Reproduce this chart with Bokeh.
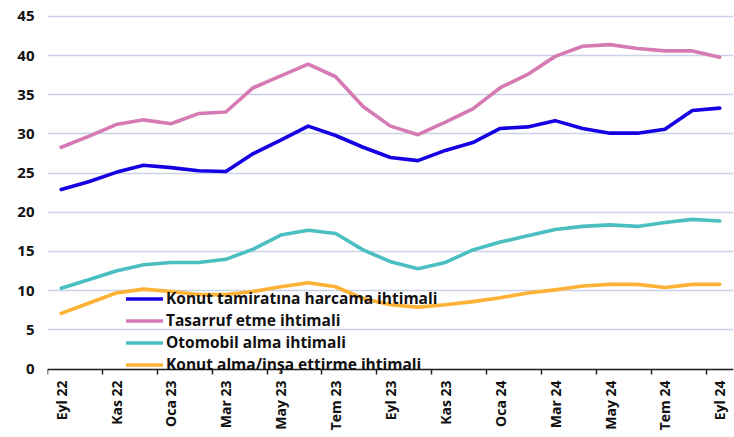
import math
from bokeh.plotting import figure
from bokeh.models import Range1d, FixedTicker, Legend, LegendItem, LinearAxis
from bokeh.embed import file_html
from bokeh.resources import INLINE

months = ["Eyl 22", "Eki 22", "Kas 22", "Ara 22", "Oca 23", "Şub 23", "Mar 23", "Nis 23",
          "May 23", "Haz 23", "Tem 23", "Ağu 23", "Eyl 23", "Eki 23", "Kas 23", "Ara 23",
          "Oca 24", "Şub 24", "Mar 24", "Nis 24", "May 24", "Haz 24", "Tem 24", "Ağu 24", "Eyl 24"]

konut_tamirat = [22.9, 23.9, 25.1, 26.0, 25.7, 25.3, 25.2, 27.5, 29.2, 31.0, 29.8, 28.3, 27.0,
                 26.6, 27.9, 28.9, 30.7, 30.9, 31.7, 30.7, 30.1, 30.1, 30.6, 33.0, 33.3]
tasarruf = [28.3, 29.7, 31.2, 31.8, 31.3, 32.6, 32.8, 35.9, 37.4, 38.9, 37.3, 33.5, 31.0,
            29.9, 31.5, 33.2, 35.9, 37.6, 39.9, 41.2, 41.4, 40.9, 40.6, 40.6, 39.8]
otomobil = [10.3, 11.4, 12.5, 13.3, 13.6, 13.6, 14.0, 15.3, 17.1, 17.7, 17.3, 15.2, 13.7,
            12.8, 13.6, 15.2, 16.2, 17.0, 17.8, 18.2, 18.4, 18.2, 18.7, 19.1, 18.9]
konut_alma = [7.1, 8.4, 9.7, 10.2, 9.9, 9.5, 9.5, 9.9, 10.5, 11.0, 10.5, 9.0, 8.2,
              7.9, 8.2, 8.6, 9.1, 9.7, 10.1, 10.6, 10.8, 10.8, 10.4, 10.8, 10.8]

series_names = ["Konut tamiratına harcama ihtimali", "Tasarruf etme ihtimali",
                "Otomobil alma ihtimali", "Konut alma/inşa ettirme ihtimali"]
series_values = [konut_tamirat, tasarruf, otomobil, konut_alma]
colors = ["#1500E3", "#D67AB3", "#4BBFC0", "#FDB235"]
y_ticks = [0, 5, 10, 15, 20, 25, 30, 35, 40, 45]

FONT = "Open Sans"
x = list(range(len(months)))

p = figure(width=734, height=437, output_backend="svg", toolbar_location=None,
           x_range=Range1d(-0.5, len(months) - 0.5), y_range=Range1d(-0.7, 45.5),
           min_border_left=47, min_border_right=1, min_border_top=12, min_border_bottom=63)
p.outline_line_color = None
p.background_fill_color = "white"
p.border_fill_color = "white"

renderers = []
for vals, col in zip(series_values, colors):
    r = p.line(x, vals, line_color=col, line_width=3.6, line_join="round", line_cap="round")
    renderers.append(r)

label_idx = list(range(0, len(months), 2))
boundaries = [i - 0.5 for i in label_idx]

# labels-only x axis
p.xaxis.ticker = FixedTicker(ticks=label_idx)
p.xaxis.major_label_overrides = {i: months[i] for i in label_idx}
p.xaxis.major_label_orientation = math.pi / 2
p.xaxis.axis_line_color = None
p.xaxis.major_tick_line_color = None
p.xaxis.minor_tick_line_color = None
p.xaxis.major_tick_out = 0
p.xaxis.major_tick_in = 0
p.xaxis.minor_tick_out = 0
p.xaxis.minor_tick_in = 0
p.xaxis.major_label_text_font = FONT
p.xaxis.major_label_text_font_style = "bold"
p.xaxis.major_label_text_font_size = "14px"
p.xaxis.major_label_text_color = "#111111"
p.xaxis.major_label_standoff = 6

# axis line + boundary ticks drawn at y = 0
line_axis = LinearAxis(fixed_location=0, ticker=FixedTicker(ticks=[], minor_ticks=boundaries),
                       axis_line_color="#222222", axis_line_width=1.5,
                       major_tick_line_color=None, major_tick_out=0, major_tick_in=0,
                       minor_tick_line_color="#222222", minor_tick_line_width=1.5,
                       minor_tick_out=6, minor_tick_in=0,
                       major_label_standoff=0, major_label_text_font_size="0px")
p.add_layout(line_axis, "below")

# y axis
p.yaxis.ticker = FixedTicker(ticks=y_ticks)
p.yaxis.axis_line_color = None
p.yaxis.major_tick_line_color = None
p.yaxis.minor_tick_line_color = None
p.yaxis.major_label_text_font = FONT
p.yaxis.major_label_text_font_style = "bold"
p.yaxis.major_label_text_font_size = "15px"
p.yaxis.major_label_text_color = "#111111"
p.yaxis.major_label_standoff = 7

p.xgrid.grid_line_color = None
p.ygrid.grid_line_color = "#C9D3E8"
p.ygrid.grid_line_width = 1.5

legend = Legend(items=[LegendItem(label=n, renderers=[r]) for n, r in zip(series_names, renderers)],
                location=(79, -1), orientation="vertical",
                background_fill_alpha=0, border_line_alpha=0,
                label_text_font=FONT, label_text_font_size="15.5px", label_text_font_style="bold",
                label_text_color="#111111", label_text_line_height=1.0,
                glyph_width=37, glyph_height=19, label_height=19, label_standoff=3,
                spacing=0, padding=0, margin=0)
p.add_layout(legend, "center")

open("out.html", "w").write(file_html(p, INLINE))
